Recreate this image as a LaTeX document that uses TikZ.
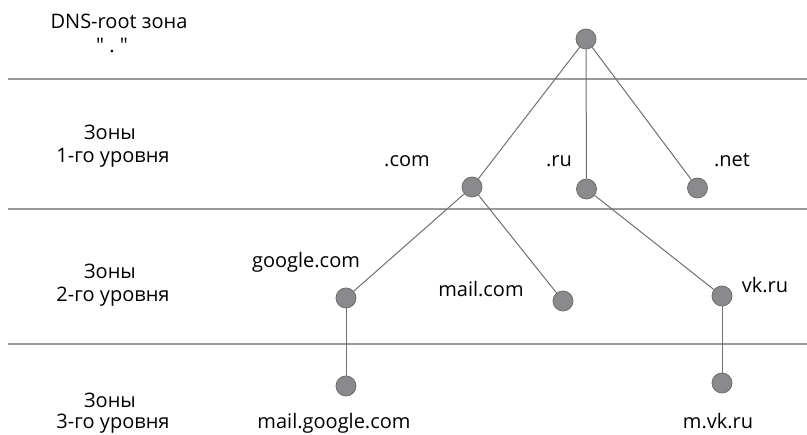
\documentclass[tikz,border=0pt]{standalone}
\usepackage{fontspec}
\setmainfont{Open Sans}
\newfontfamily\qfont{Open Sans}[Ligatures=TeXOff]
\begin{document}
\begin{tikzpicture}[x=1pt,y=-1pt,
  dot/.style={circle,fill=dotgray,draw=dotedge,line width=0.8pt,minimum size=20pt,inner sep=0pt},
  edge/.style={draw=edgegray,line width=1pt},
  sep/.style={draw=sepgray,line width=1.6pt},
  lbl/.style={font=\fontsize{20}{24}\selectfont,text=black,inner sep=0pt,anchor=base}]
\definecolor{dotgray}{HTML}{8A8A8C}
\definecolor{dotedge}{HTML}{6E6E70}
\definecolor{edgegray}{HTML}{707070}
\definecolor{sepgray}{HTML}{9A9A9A}
\useasboundingbox (0,0) rectangle (807,435);
% separators
\coordinate (s1a) at (8,79); \coordinate (s1b) at (807,79);
\coordinate (s2a) at (8,209); \coordinate (s2b) at (807,209);
\coordinate (s3a) at (8,344); \coordinate (s3b) at (807,344);
\draw[sep] (s1a) -- (s1b);
\draw[sep] (s2a) -- (s2b);
\draw[sep] (s3a) -- (s3b);
% zone labels
\node[lbl] (z0a) at (119,29) {DNS-root зона};
\node[lbl] (z0b) at (112,53) {\qfont "~.~"};
\node[lbl] (z1a) at (110,140) {Зоны};
\node[lbl] (z1b) at (113,163) {1-го уровня};
\node[lbl] (z2a) at (110,279) {Зоны};
\node[lbl] (z2b) at (113,302) {2-го уровня};
\node[lbl] (z3a) at (110,408) {Зоны};
\node[lbl] (z3b) at (113,429) {3-го уровня};
% nodes
\node[dot] (root) at (586,39) {};
\node[dot] (com) at (472,187) {};
\node[dot] (ru) at (586.5,189) {};
\node[dot] (net) at (697.5,188) {};
\node[dot] (google) at (346,298) {};
\node[dot] (mailc) at (563,301) {};
\node[dot] (vk) at (722,296) {};
\node[dot] (mg) at (346,386) {};
\node[dot] (mvk) at (722,383) {};
% edges
\draw[edge] (root) -- (com);
\draw[edge] (root) -- (ru);
\draw[edge] (root) -- (net);
\draw[edge] (com) -- (google);
\draw[edge] (com) -- (mailc);
\draw[edge] (ru) -- (vk);
\draw[edge] (google) -- (mg);
\draw[edge] (vk) -- (mvk);
% labels
\node[lbl] (lcom) at (407,167) {.com};
\node[lbl] (lru) at (559,167) {.ru};
\node[lbl] (lnet) at (732,167) {.net};
\node[lbl] (lgoogle) at (306,268) {google.com};
\node[lbl] (lmail) at (481,297) {mail.com};
\node[lbl] (lvk) at (765,293) {vk.ru};
\node[lbl] (lmg) at (334,429) {mail.google.com};
\node[lbl] (lmvk) at (718,429) {m.vk.ru};
\end{tikzpicture}
\end{document}
